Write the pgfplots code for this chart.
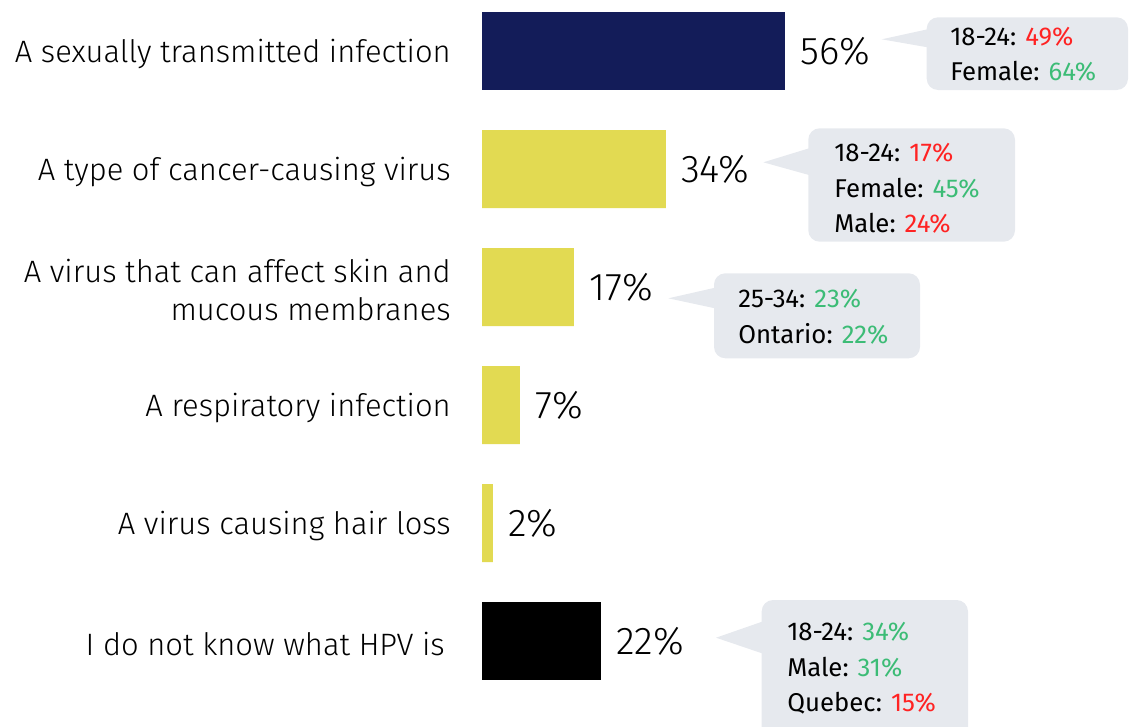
\documentclass[border=0pt]{standalone}
\usepackage{pgfplots}
\pgfplotsset{compat=1.18}
\usepackage{fontspec}
\setmainfont{Fira Sans}
\newfontfamily\light{Fira Sans Light}
\definecolor{navy}{RGB}{19,28,89}
\definecolor{yel}{RGB}{226,218,82}
\definecolor{bub}{RGB}{230,233,238}
\definecolor{red}{RGB}{255,35,35}
\definecolor{grn}{RGB}{60,188,118}
\newcommand{\lab}{\light\fontsize{23.2}{28.5}\selectfont}
\newcommand{\val}{\light\fontsize{29}{34}\selectfont}
\newcommand{\bt}{\fontsize{19.3}{22}\selectfont}
\begin{document}
\begin{tikzpicture}[x=0.75pt,y=-0.75pt]
\clip (0,0) rectangle (1130,726);
% callout bubbles
\fill[bub, rounded corners=8.5pt] (926.7,17.3) rectangle (1128,90);
\fill[bub] (881.7,39.3) -- (927.5,29.3) -- (927.5,47.3) -- cycle;
\fill[bub, rounded corners=8.5pt] (808.3,128.3) rectangle (1015,241.7);
\fill[bub] (763.3,162.3) -- (809,148.3) -- (809,175) -- cycle;
\fill[bub, rounded corners=8.5pt] (714,273.3) rectangle (920,358.3);
\fill[bub] (668.3,298.3) -- (715,287.7) -- (715,308.3) -- cycle;
\fill[bub, rounded corners=8.5pt] (761.7,600) rectangle (968,745);
\fill[bub] (716,637.7) -- (762,621.7) -- (762,653.3) -- cycle;
\begin{axis}[
  at={(361.5pt,-544.5pt)}, anchor=south west,
  scale only axis, width=486pt, height=544.5pt,
  xbar, bar width=58.5pt, bar shift=0pt,
  xmin=0, xmax=119.78,
  ymin=-0.4322, ymax=5.7203, y dir=reverse,
  axis line style={draw=none},
  hide x axis,
  ytick={0,1,2,3,4,5},
  yticklabels={A sexually transmitted infection, A type of cancer-causing virus, {A virus that can affect skin and\\mucous membranes}, A respiratory infection, A virus causing hair loss, {I do not know what HPV is\hspace{4.5pt}}},
  yticklabel style={anchor=east, align=right, inner sep=0pt, xshift=-23.25pt, yshift=-2pt, font=\lab},
  major tick length=0pt,
  /pgf/number format/assume math mode=true,
  nodes near coords={\pgfmathprintnumber{\pgfplotspointmeta}\%},
  point meta=x,
  every node near coord/.append style={anchor=west, inner sep=0pt, xshift=11.25pt, font=\val, text=black},
  clip=false,
]
\addplot[fill=navy, draw=none] coordinates {(56,0)};
\addplot[fill=yel, draw=none] coordinates {(34,1) (17,2) (7,3) (2,4)};
\addplot[fill=black, draw=none] coordinates {(22,5)};
\end{axis}
% callout texts
\begin{scope}[every node/.style={anchor=base west, inner sep=0pt, font=\bt}]
\node at (950,45.7) {18-24: \textcolor{red}{49\%}};
\node at (950,80.7) {Female: \textcolor{grn}{64\%}};
\node at (834,161.5) {18-24: \textcolor{red}{17\%}};
\node at (834,197) {Female: \textcolor{grn}{45\%}};
\node at (834,232.3) {Male: \textcolor{red}{24\%}};
\node at (738,307.5) {25-34: \textcolor{grn}{23\%}};
\node at (738,343) {Ontario: \textcolor{grn}{22\%}};
\node at (787,640) {18-24: \textcolor{grn}{34\%}};
\node at (787,676) {Male: \textcolor{grn}{31\%}};
\node at (787,711.7) {Quebec: \textcolor{red}{15\%}};
\end{scope}
\end{tikzpicture}
\end{document}
